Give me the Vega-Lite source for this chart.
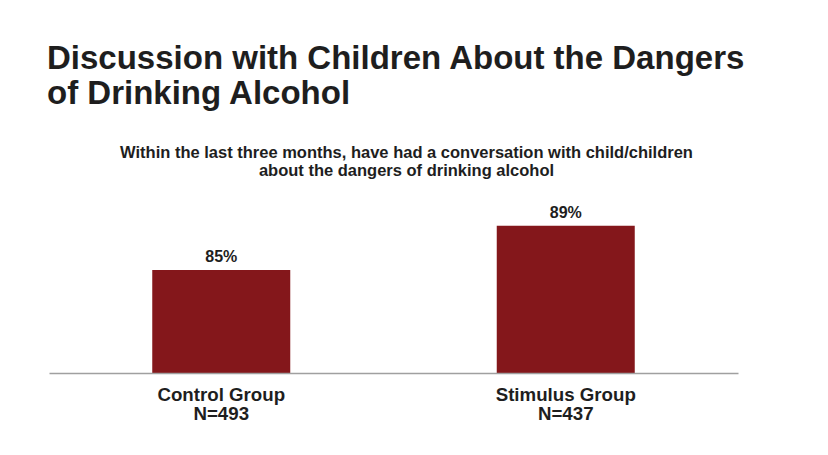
{
  "$schema": "https://vega.github.io/schema/vega-lite/v6.json",
  "width": 689,
  "height": 173,
  "autosize": "none",
  "padding": {"left": 49, "top": 200, "right": 90, "bottom": 82},
  "background": "#ffffff",
  "config": {"view": {"stroke": null}, "font": "Liberation Sans"},
  "title": {
    "text": ["Discussion with Children About the Dangers", "of Drinking Alcohol"],
    "anchor": "start",
    "frame": "group",
    "font": "Liberation Sans",
    "fontSize": 33,
    "fontWeight": "bold",
    "color": "#1e1e1e",
    "lineHeight": 35,
    "offset": 33,
    "dx": -2
  },
  "data": {
    "values": [
      {"group": "Control Group|N=493", "pct": 85, "label": "85%"},
      {"group": "Stimulus Group|N=437", "pct": 89, "label": "89%"}
    ]
  },
  "layer": [
    {
      "mark": {"type": "bar", "color": "#84171B", "size": 138},
      "encoding": {
        "x": {
          "field": "group",
          "type": "nominal",
          "sort": null,
          "scale": {"paddingInner": 0, "paddingOuter": 0},
          "axis": {
            "orient": "bottom",
            "title": null,
            "labelAngle": 0,
            "labelExpr": "split(datum.label, '|')",
            "labelFont": "Liberation Sans",
            "labelFontSize": 18.7,
            "labelFontWeight": "bold",
            "labelColor": "#1e1e1e",
            "labelLineHeight": 19,
            "labelPadding": 12,
            "ticks": false,
            "domainColor": "#a0a0a0",
            "domainWidth": 1.5,
            "zindex": 1
          }
        },
        "y": {
          "field": "pct",
          "type": "quantitative",
          "scale": {"domain": [75.7, 91.33], "zero": false, "nice": false, "clamp": true},
          "axis": null
        }
      }
    },
    {
      "mark": {"type": "text", "baseline": "alphabetic", "dy": -8, "font": "Liberation Sans", "fontSize": 16, "fontWeight": "bold", "color": "#1e1e1e"},
      "encoding": {
        "x": {
          "field": "group",
          "type": "nominal",
          "sort": null,
          "axis": {
            "orient": "top",
            "title": ["Within the last three months, have had a conversation with child/children", "about the dangers of drinking alcohol"],
            "titleFont": "Liberation Sans",
            "titleFontSize": 16.5,
            "titleFontWeight": "bold",
            "titleColor": "#1e1e1e",
            "titleLineHeight": 18,
            "titlePadding": 22,
            "titleAlign": "center",
            "titleX": 357,
            "domain": false,
            "ticks": false,
            "labels": false
          }
        },
        "y": {"field": "pct", "type": "quantitative"},
        "text": {"field": "label", "type": "nominal"}
      }
    }
  ],
  "resolve": {"axis": {"x": "independent"}}
}
